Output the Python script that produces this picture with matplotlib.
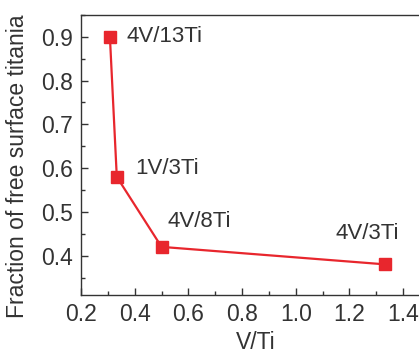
import matplotlib.pyplot as plt
from matplotlib.ticker import MultipleLocator

plt.rcParams['font.family'] = ['Liberation Sans', 'DejaVu Sans']

# V/Ti ratio and fraction of free surface titania
v_ti = [4 / 13, 1 / 3, 0.5, 4 / 3]
fraction = [0.90, 0.58, 0.42, 0.38]
labels = ['4V/13Ti', '1V/3Ti', '4V/8Ti', '4V/3Ti']
label_offsets = [(12, 0), (13, 6), (4.5, 18), (-36, 22)]

red = '#e8262d'
text_col = '#333333'

fig = plt.figure(figsize=(4.19, 3.55), dpi=100)
ax = fig.add_axes([81 / 419, 60 / 355, 349 / 419, 280 / 355])

ax.plot(v_ti, fraction, color=red, lw=1.6, marker='s', markersize=8,
        markerfacecolor=red, markeredgecolor=red)

for x, y, s, (dx, dy) in zip(v_ti, fraction, labels, label_offsets):
    ax.annotate(s, (x, y), xytext=(dx, dy), textcoords='offset points',
                fontsize=16, color=text_col, va='center', ha='left')

ax.set_xlim(0.2, 1.5)
ax.set_ylim(0.31, 0.95)
ax.xaxis.set_minor_locator(MultipleLocator(0.1))
ax.yaxis.set_minor_locator(MultipleLocator(0.05))
ax.set_xticks([0.2, 0.4, 0.6, 0.8, 1.0, 1.2, 1.4])
ax.set_yticks([0.4, 0.5, 0.6, 0.7, 0.8, 0.9])
ax.tick_params(which='both', direction='in', colors='#333333',
               labelsize=16.5, labelcolor=text_col, pad=6)
ax.tick_params(which='major', length=5, width=1)
ax.tick_params(which='minor', length=3, width=1)
for sp in ax.spines.values():
    sp.set_color('#333333')
    sp.set_linewidth(1)

ax.set_xlabel('V/Ti', fontsize=16.5, color=text_col)
ax.set_ylabel('Fraction of free surface titania', fontsize=16.5, color=text_col)
ax.xaxis.set_label_coords(0.5, -0.13)
ax.yaxis.set_label_coords(-0.15, 0.46)

fig.savefig('out.png', dpi=100)
